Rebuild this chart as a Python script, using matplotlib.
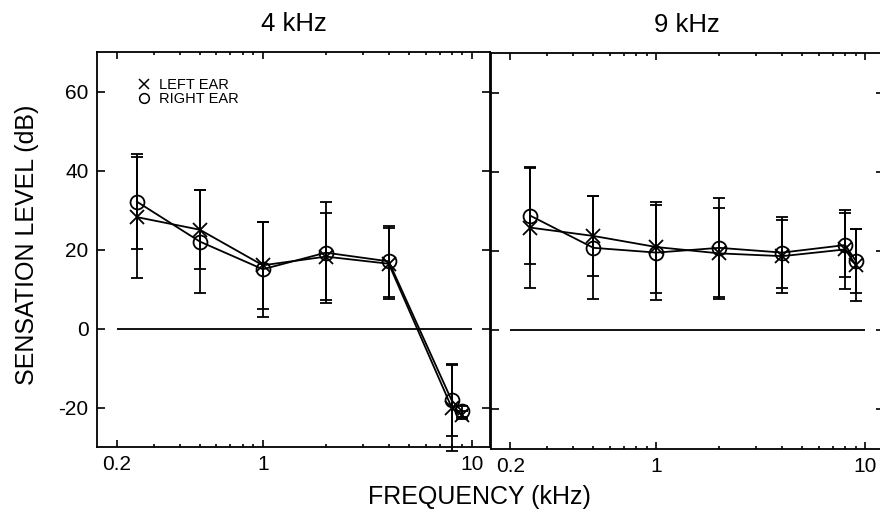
import numpy as np
import matplotlib
matplotlib.use("Agg")
import matplotlib.pyplot as plt
from matplotlib.lines import Line2D
from matplotlib.ticker import FixedLocator, LogLocator, NullFormatter

plt.rcParams['font.family'] = ['Liberation Sans', 'DejaVu Sans']

# ------------ data ------------
freqs = [0.25, 0.5, 1, 2, 4, 8, 9]  # kHz

# 4 kHz panel
left_4 = [28.2, 25.0, 16.0, 18.2, 16.4, -20.0, -22.0]
left_4_sd = [15.3, 10.0, 11.0, 11.0, 9.0, 11.0, 1.0]
right_4 = [32.1, 22.0, 15.0, 19.2, 17.0, -18.2, -21.0]
right_4_sd = [12.0, 13.0, 12.0, 12.8, 8.9, 9.0, 1.5]

# 9 kHz panel
left_9 = [25.9, 23.8, 21.0, 19.4, 18.7, 20.4, 16.5]
left_9_sd = [15.2, 10.0, 11.5, 11.4, 9.2, 9.9, 9.0]
right_9 = [28.9, 20.8, 19.6, 20.8, 19.6, 21.5, 17.5]
right_9_sd = [12.1, 13.0, 12.0, 12.5, 9.0, 8.0, 8.0]

panel_titles = ['4 kHz', '9 kHz']
x_ticks = [0.2, 1, 10]
x_ticklabels = ['0.2', '1', '10']
y_ticks = [-20, 0, 20, 40, 60]
ref_span = (0.2, 10)  # extent of the 0 dB reference line

panels = [(left_4, left_4_sd, right_4, right_4_sd),
          (left_9, left_9_sd, right_9, right_9_sd)]

fig = plt.figure(figsize=(8.8, 5.12), dpi=100)
ax_l = fig.add_axes([97 / 880, 65 / 512, 393 / 880, 395 / 512])
ax_r = fig.add_axes([490.5 / 880, 63 / 512, 393 / 880, 396 / 512])

lw = 1.3
for ax, title, (lx, lsd, rx, rsd) in zip([ax_l, ax_r], panel_titles, panels):
    ax.set_xscale('log')
    ax.hlines(0, ref_span[0], ref_span[1], color='k', lw=lw)
    ax.errorbar(freqs, lx, yerr=lsd, fmt='-', marker='x', ms=10, mew=lw,
                color='k', lw=lw, elinewidth=lw, capsize=4.5, capthick=lw,
                clip_on=False)
    ax.errorbar(freqs, rx, yerr=rsd, fmt='-', marker='o', ms=10, mew=lw,
                mfc='none', color='k', lw=lw, elinewidth=lw, capsize=4.5,
                capthick=lw, clip_on=False)
    ax.set_xlim(0.161, 12.2)
    ax.set_ylim(-30, 70)
    ax.xaxis.set_major_locator(FixedLocator(x_ticks))
    ax.set_xticklabels(x_ticklabels)
    ax.xaxis.set_minor_locator(LogLocator(base=10, subs=np.arange(2, 10)))
    ax.xaxis.set_minor_formatter(NullFormatter())
    ax.set_yticks(y_ticks)
    ax.tick_params(which='both', direction='in', top=True, right=True,
                   width=1.2, labelsize=15)
    ax.tick_params(axis='x', which='major', length=5, pad=6)
    ax.tick_params(axis='x', which='minor', length=2.5)
    ax.tick_params(axis='y', which='major', length=5.5, pad=6)
    for sp in ax.spines.values():
        sp.set_linewidth(1.3)
    ax.set_title(title, fontsize=18.5, pad=15)

ax_r.set_yticklabels([])
ax_l.set_yticklabels([str(v) for v in y_ticks])

handles = [Line2D([], [], ls='none', marker='x', color='k', ms=7, mew=1.1),
           Line2D([], [], ls='none', marker='o', mfc='none', color='k', ms=7, mew=1.1)]
ax_l.legend(handles, ['LEFT EAR', 'RIGHT EAR'], loc='upper left',
            bbox_to_anchor=(0.105, 0.935), frameon=False, fontsize=10.5,
            handlelength=0.8, handletextpad=0.6, labelspacing=0.05,
            borderpad=0, borderaxespad=0)

fig.text(27 / 880, 0.521, 'SENSATION LEVEL (dB)', rotation=90, fontsize=18,
         ha='center', va='center')
fig.text(479 / 880, 0.029, 'FREQUENCY (kHz)', fontsize=18,
         ha='center', va='center')

fig.savefig('out.png', dpi=100)
